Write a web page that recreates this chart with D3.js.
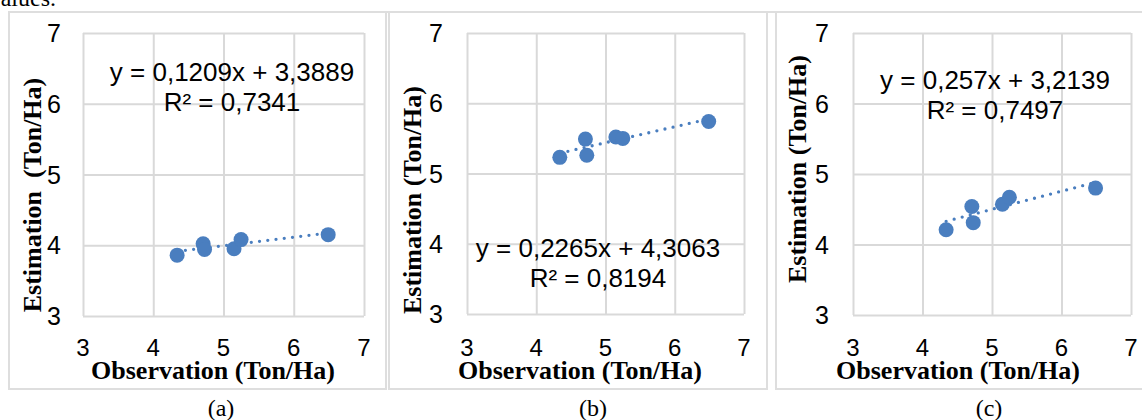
<!DOCTYPE html>
<html>
<head>
<meta charset="utf-8">
<script src="https://cdn.jsdelivr.net/npm/d3@7"></script>
<style>
    body { margin: 0; background: #fff; }
    svg { display: block; }
</style>
</head>
<body>
<div id="chart-area"></div>
<script>
// Data
const observation = [4.34, 4.71, 4.73, 5.15, 5.25, 6.49];
const estimationA = [3.86, 4.02, 3.94, 3.95, 4.08, 4.15];
const estimationB = [5.23, 5.49, 5.26, 5.52, 5.50, 5.74];
const estimationC = [4.21, 4.54, 4.31, 4.57, 4.67, 4.80];
const axisTicks = [3, 4, 5, 6, 7];
const trendSlopes = [0.1209, 0.2265, 0.257];
const trendIntercepts = [3.3889, 4.3063, 3.2139];
const equationLabels = ["y = 0,1209x + 3,3889", "y = 0,2265x + 4,3063", "y = 0,257x + 3,2139"];
const r2Labels = ["R² = 0,7341", "R² = 0,8194", "R² = 0,7497"];
const yTitles = ["Estimation  (Ton/Ha)", "Estimation (Ton/Ha)", "Estimation (Ton/Ha)"];
const xTitle = "Observation (Ton/Ha)";
const captions = ["(a)", "(b)", "(c)"];

const estimations = [estimationA, estimationB, estimationC];

// layout of the three panels (pixels)
const panels = [
    {box: [9, 386], plot: {l: 83, r: 364, t: 33, b: 316}, yTickX: 61, yTitle: [32, 195], xTitleX: 213, eq: [232, 72], cap: 221},
    {box: [389, 767], plot: {l: 467, r: 744, t: 33, b: 314}, yTickX: 443, yTitle: [412, 200], xTitleX: 580, eq: [598, 248], cap: 593},
    {box: [776, 1150], plot: {l: 853, r: 1131, t: 33, b: 315}, yTickX: 829, yTitle: [797, 169], xTitleX: 958, eq: [995, 80], cap: 989}
];

const blue = "#4a7ebf";
const grid = "#d9d9d9";
const sans = "'Liberation Sans', Arial, sans-serif";
const serif = "'Liberation Serif', 'Times New Roman', serif";

const svg = d3.select("#chart-area").append("svg")
    .attr("width", 1142)
    .attr("height", 420);

// cut-off text from the page above
svg.append("text")
    .attr("x", 56).attr("y", 6)
    .attr("text-anchor", "end")
    .style("font-family", serif)
    .style("font-size", "24px")
    .text("values.");

// top border across the page
svg.append("line")
    .attr("x1", 9).attr("x2", 1142)
    .attr("y1", 12).attr("y2", 12)
    .style("stroke", "#dedede").style("stroke-width", 2);

panels.forEach((p, i) => {
    const g = svg.append("g");

    // panel border
    g.append("rect")
        .attr("x", p.box[0]).attr("y", 12)
        .attr("width", p.box[1] - p.box[0]).attr("height", 377)
        .style("fill", "none").style("stroke", "#dedede").style("stroke-width", 2);

    const x = d3.scaleLinear().domain([3, 7]).range([p.plot.l, p.plot.r]);
    const y = d3.scaleLinear().domain([3, 7]).range([p.plot.b, p.plot.t]);

    // gridlines
    g.append("g")
        .attr("transform", "translate(0," + p.plot.b + ")")
        .call(d3.axisBottom(x).tickValues(axisTicks).tickSize(-(p.plot.b - p.plot.t)).tickFormat(""))
        .call(a => a.select(".domain").remove())
        .call(a => a.selectAll("line").style("stroke", grid).style("stroke-width", 2));
    g.append("g")
        .attr("transform", "translate(" + p.plot.l + ",0)")
        .call(d3.axisLeft(y).tickValues(axisTicks).tickSize(-(p.plot.r - p.plot.l)).tickFormat(""))
        .call(a => a.select(".domain").remove())
        .call(a => a.selectAll("line").style("stroke", grid).style("stroke-width", 2));

    // tick labels
    g.selectAll(".xtick")
        .data(axisTicks)
        .enter().append("text")
        .attr("x", d => x(d))
        .attr("y", 356)
        .attr("text-anchor", "middle")
        .style("font-family", sans).style("font-size", "24px")
        .text(d => d);
    g.selectAll(".ytick")
        .data(axisTicks)
        .enter().append("text")
        .attr("x", p.yTickX)
        .attr("y", d => y(d) + 9)
        .attr("text-anchor", "end")
        .style("font-family", sans).style("font-size", "25px")
        .text(d => d);

    // axis titles
    g.append("text")
        .attr("x", p.xTitleX).attr("y", 379)
        .attr("text-anchor", "middle")
        .style("font-family", serif).style("font-size", "26px").style("font-weight", "bold")
        .text(xTitle);
    g.append("text")
        .attr("transform", "translate(" + (p.yTitle[0] + 9) + "," + p.yTitle[1] + ") rotate(-90)")
        .attr("text-anchor", "middle")
        .style("font-family", serif).style("font-size", "26px").style("font-weight", "bold")
        .style("white-space", "pre")
        .text(yTitles[i]);

    // trendline
    const xs = d3.extent(observation);
    g.append("line")
        .attr("x1", x(xs[0])).attr("y1", y(trendSlopes[i] * xs[0] + trendIntercepts[i]))
        .attr("x2", x(xs[1])).attr("y2", y(trendSlopes[i] * xs[1] + trendIntercepts[i]))
        .style("stroke", blue).style("stroke-width", 3.3)
        .style("stroke-linecap", "round").style("stroke-dasharray", "0 8.3");

    // points
    g.selectAll("circle")
        .data(observation.map((o, k) => ({obs: o, est: estimations[i][k]})))
        .enter().append("circle")
        .attr("cx", d => x(d.obs))
        .attr("cy", d => y(d.est))
        .attr("r", 7.5)
        .style("fill", blue);

    // equation + R²
    g.append("text")
        .attr("x", p.eq[0]).attr("y", p.eq[1] + 9)
        .attr("text-anchor", "middle")
        .style("font-family", sans).style("font-size", "26px")
        .text(equationLabels[i]);
    g.append("text")
        .attr("x", p.eq[0]).attr("y", p.eq[1] + 39)
        .attr("text-anchor", "middle")
        .style("font-family", sans).style("font-size", "26px")
        .text(r2Labels[i]);

    // caption
    g.append("text")
        .attr("x", p.cap).attr("y", 416)
        .attr("text-anchor", "middle")
        .style("font-family", serif).style("font-size", "24px")
        .text(captions[i]);
});
</script>
</body>
</html>
